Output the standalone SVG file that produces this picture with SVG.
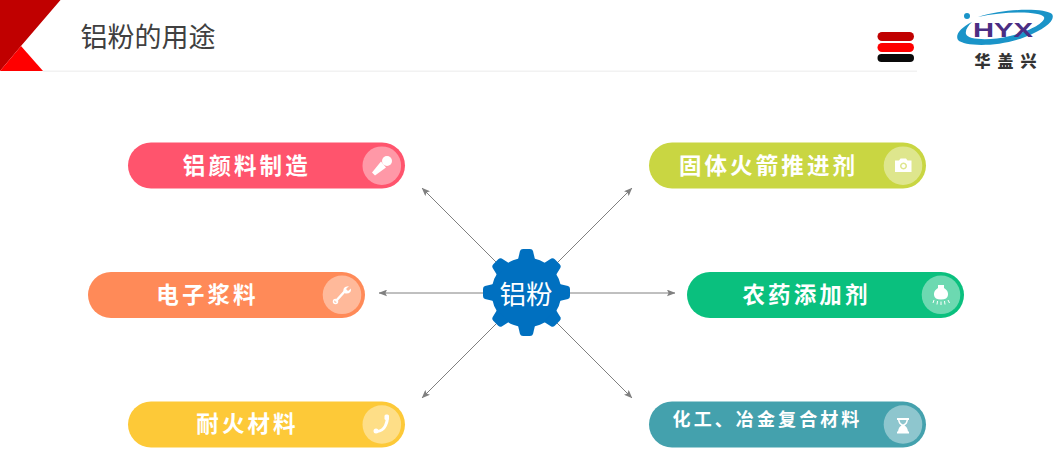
<svg xmlns="http://www.w3.org/2000/svg" xmlns:xlink="http://www.w3.org/1999/xlink" width="1061" height="462" viewBox="0 0 1061 462">
<style>
text{font-family:"Noto Sans CJK SC","Noto Sans",sans-serif}
.lbl{font-size:22.500px;font-weight:700;fill:#fff;letter-spacing:3.100px;text-anchor:middle}
.ic{fill:#fff;stroke:none}
.ring{fill:#fff;fill-opacity:.4}
.conn{stroke:#808080;stroke-width:1;fill:none;marker-end:url(#arr)}
</style>
<defs>
<marker id="arr" viewBox="0 0 10 8" refX="9.5" refY="4" markerWidth="8.500" markerHeight="7" orient="auto" markerUnits="userSpaceOnUse"><path d="M0 0L10 4L0 8L2 4Z" fill="#808080"/></marker>
<path id="tooth" d="M-8.5-33L-6.5-41.5Q-6-43.5-3.5-43.5H3.5Q6-43.5 6.5-41.5L8.5-33Z" fill="#0070c0"/>
</defs>
<rect width="1061" height="462" fill="#fff"/>
<g id="header">
<rect x="43" y="70.500" width="874" height="1.500" fill="#f2f2f2"/>
<polygon points="0,0 60.500,0 21,46 0,71" fill="#c00000"/>
<polygon points="21,46 43,71 0,71" fill="#ff0000"/>
<text x="80.500" y="46.500" font-size="27" fill="#404040" font-weight="400">铝粉的用途</text>
<rect x="877.500" y="32" width="36.500" height="9" rx="4.500" fill="#c00000"/>
<rect x="877.500" y="43" width="36.500" height="9" rx="4.500" fill="#ff0000"/>
<rect x="877.500" y="54" width="36.500" height="8" rx="4" fill="#0a0a0a"/>
</g>
<g id="logo">
<circle cx="967" cy="16" r="3" fill="#1a94c8"/>
<path d="M972 22C960 28 955 35 958 40C965 47 1000 47 1025 37C1045 29 1056 20 1052 14C1045 8 1005 8 978 17C1005 11 1040 11 1044 17C1046 22 1030 31 1010 36C990 41 968 40 966 34C965 30 968 26 972 22Z" fill="#1a94c8"/>
<text x="973" y="37" style="font-family:'Liberation Sans',sans-serif" font-size="21" font-weight="700" fill="#4b2e83" textLength="60" lengthAdjust="spacingAndGlyphs">HYX</text>
<text x="974.500" y="67" font-size="16" font-weight="900" fill="#333" letter-spacing="7">华盖兴</text>
</g>
<g id="connectors">
<line class="conn" x1="527" y1="293" x2="422" y2="188"/>
<line class="conn" x1="527" y1="293" x2="632" y2="188"/>
<line class="conn" x1="527" y1="293" x2="379" y2="293"/>
<line class="conn" x1="527" y1="293" x2="675" y2="293"/>
<line class="conn" x1="527" y1="293" x2="422" y2="398"/>
<line class="conn" x1="527" y1="293" x2="632" y2="398"/>
</g>
<g id="hub">
<circle cx="526.500" cy="292.500" r="35" fill="#0070c0"/>
<use xlink:href="#tooth" href="#tooth" transform="translate(526.500 292.500)"/>
<use xlink:href="#tooth" href="#tooth" transform="translate(526.500 292.500) rotate(45)"/>
<use xlink:href="#tooth" href="#tooth" transform="translate(526.500 292.500) rotate(90)"/>
<use xlink:href="#tooth" href="#tooth" transform="translate(526.500 292.500) rotate(135)"/>
<use xlink:href="#tooth" href="#tooth" transform="translate(526.500 292.500) rotate(180)"/>
<use xlink:href="#tooth" href="#tooth" transform="translate(526.500 292.500) rotate(225)"/>
<use xlink:href="#tooth" href="#tooth" transform="translate(526.500 292.500) rotate(270)"/>
<use xlink:href="#tooth" href="#tooth" transform="translate(526.500 292.500) rotate(315)"/>
<text x="526" y="303.500" font-size="26.500" fill="#fff" text-anchor="middle">铝粉</text>
</g>
<g id="n1">
<rect x="128" y="142.500" width="277" height="46" rx="23" fill="#ff546d"/>
<circle class="ring" cx="381.800" cy="165.700" r="19.300"/>
<text class="lbl" x="246.800" y="173.500">铝颜料制造</text>
<path class="ic" d="M381 161.500L386 167.500L375 175.500L372 172.500Z"/>
<circle class="ic" cx="387" cy="161" r="5"/>
</g>
<g id="n2">
<rect x="88" y="272" width="277" height="46" rx="23" fill="#ff8a58"/>
<circle class="ring" cx="342" cy="294.800" r="19.300"/>
<text class="lbl" x="207.500" y="303">电子浆料</text>
<path d="M335.500 301.500L345.500 290.500" stroke="#fff" stroke-width="2.500" fill="none"/>
<circle cx="335.500" cy="301.500" r="2" fill="none" stroke="#fff" stroke-width="1.500"/>
<path class="ic" d="M343.500 292.500Q342.500 287 347 286.500L349 286L346 289L348 291L351 288.500Q351.500 294 345.500 293.500Z"/>
</g>
<g id="n3">
<rect x="128" y="401.500" width="277" height="46" rx="23" fill="#fdc938"/>
<circle class="ring" cx="381.800" cy="424.500" r="19.300"/>
<text class="lbl" x="247.500" y="432">耐火材料</text>
<path d="M376.500 431.500Q383 431 385.500 425.500Q388 420 387 416" stroke="#fff" stroke-width="3" fill="none"/>
<circle class="ic" cx="376" cy="431" r="2.500"/>
<rect class="ic" x="384.500" y="414.500" width="4.500" height="5.500" rx="1.500"/>
</g>
<g id="n4">
<rect x="649" y="142.500" width="277" height="46" rx="23" fill="#c9d642"/>
<circle class="ring" cx="903" cy="165.700" r="19.300"/>
<text class="lbl" x="768.500" y="173.500">固体火箭推进剂</text>
<path class="ic" fill-rule="evenodd" d="M895 160.500H899L900.500 158.500H906L907.500 160.500H911.500V172H895ZM903.500 162.500a3.500 3.500 0 1 0 .01 0ZM903.500 164a2 2 0 1 1-.01 0Z"/>
</g>
<g id="n5">
<rect x="687" y="272" width="277" height="46" rx="23" fill="#0ac07e"/>
<circle class="ring" cx="941" cy="294.800" r="19.300"/>
<text class="lbl" x="806.500" y="303">农药添加剂</text>
<path class="ic" d="M938 285H944V288Q948.500 290.500 948 295Q947.500 299.500 941 299.500Q934.500 299.500 934 295Q933.500 290.500 938 288Z"/>
<path d="M934 300L933 303M937.500 301L937 304.500M941 301.500V305M944.500 301L945 304.500M948 300L949.500 303" stroke="#fff" stroke-width="1" fill="none"/>
</g>
<g id="n6">
<rect x="649" y="401.500" width="277" height="46" rx="23" fill="#44a1ad"/>
<circle class="ring" cx="903" cy="424.500" r="19.300"/>
<text class="lbl" x="767.500" y="426" style="font-size:18px;letter-spacing:3.100px">化工、冶金复合材料</text>
<path class="ic" fill-rule="evenodd" d="M897 418H909V420H908Q907.500 424 904.500 425.500Q907.500 427 908 431.500H909V433.500H897V431.500H898Q898.500 427 901.500 425.500Q898.500 424 898 420H897ZM899.500 420Q900 423.500 903 424.500Q906 423.500 906.500 420Z"/>
</g>
</svg>
